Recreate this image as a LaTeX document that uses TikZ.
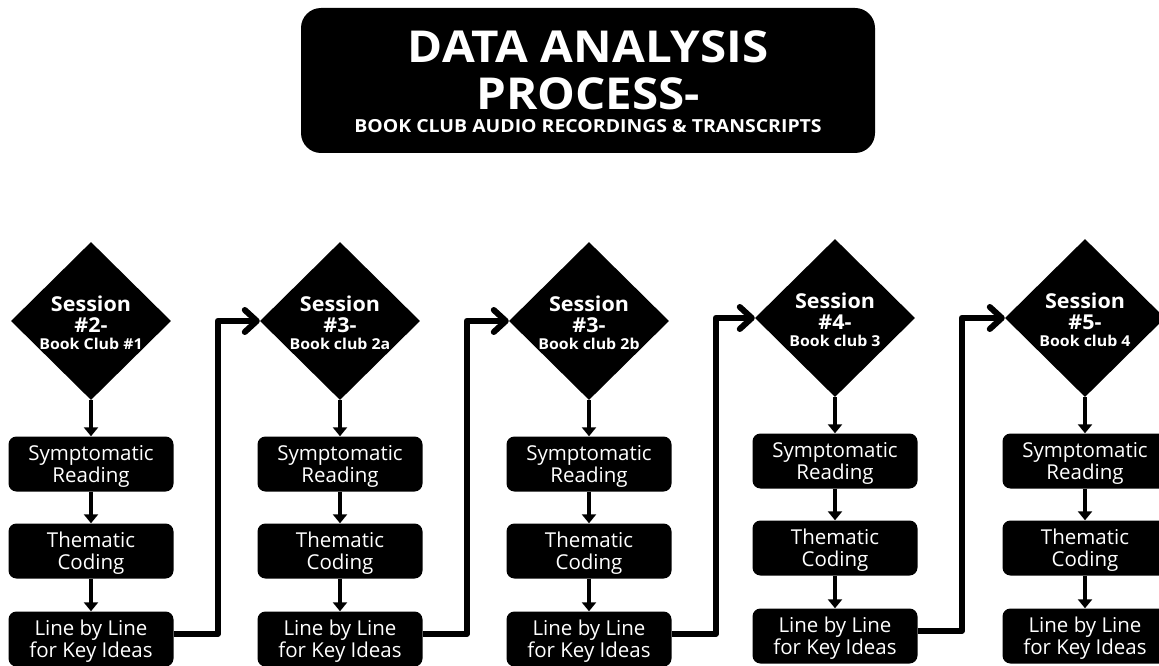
\documentclass[tikz,border=0pt]{standalone}
\usepackage{fontspec}
\setmainfont{Open Sans}
\usetikzlibrary{shapes.geometric,arrows.meta}
\tikzset{
  titlebox/.style={draw=none,fill=black,rounded corners=20pt,minimum width=574pt,minimum height=145pt,inner sep=0pt},
  diam/.style={diamond,fill=black,draw=none,minimum width=160pt,minimum height=158pt,inner sep=0pt,aspect=1},
  stepbox/.style={fill=black,draw=none,rounded corners=8pt,minimum width=165pt,minimum height=55pt,inner sep=0pt},
  steptext/.style={text=white,align=center,inner sep=0pt,font=\fontsize{20.5}{22}\selectfont},
  whitebold/.style={text=white,inner sep=0pt,anchor=base,font=\bfseries},
  down/.style={line width=4pt,-{Triangle[length=9pt,width=14pt]}},
  conn/.style={line width=6pt,line join=round,-{Straight Barb[length=12pt,width=22pt,round]}},
}
\begin{document}
\begin{tikzpicture}[x=1pt,y=-1pt]
\useasboundingbox (0,0) rectangle (1159,666);
\node[titlebox] (title) at (588,80.5) {};
\node[whitebold,font=\fontsize{44}{44}\bfseries\selectfont] (t1) at (588,63) {\scalebox{1.08}[1]{DATA ANALYSIS}};
\node[whitebold,font=\fontsize{44}{44}\bfseries\selectfont] (t2) at (588,110) {\scalebox{1.08}[1]{PROCESS-}};
\node[whitebold,font=\fontsize{18}{18}\bfseries\selectfont] (t3) at (588,132) {\scalebox{1.08}[1]{BOOK CLUB AUDIO RECORDINGS \& TRANSCRIPTS}};
\foreach \i/\x/\dy/\num/\sub in {1/91/0/\#2-/Book Club \#1, 2/340/0/\#3-/Book club 2a, 3/589/0/\#3-/Book club 2b, 4/835/-3/\#4-/Book club 3, 5/1085/-3/\#5-/Book club 4}{
  \node[diam] (d\i) at (\x,321+\dy) {};
  \node[whitebold,font=\fontsize{20.5}{20}\bfseries\selectfont] (sa\i) at (\x,311+\dy) {\scalebox{1.05}[1]{Session}};
  \node[whitebold,font=\fontsize{20.5}{20}\bfseries\selectfont] (sb\i) at (\x,332+\dy) {\scalebox{1.05}[1]{\num}};
  \node[whitebold,font=\fontsize{15}{15}\bfseries\selectfont] (sc\i) at (\x,349+\dy) {\scalebox{1.06}[1]{\sub}};
  \node[stepbox] (r\i) at (\x,464+\dy) {};
  \node[steptext] (rt\i) at (\x,466.5+\dy) {Symptomatic\\Reading};
  \node[stepbox] (c\i) at (\x,551+\dy) {};
  \node[steptext] (ct\i) at (\x,553.5+\dy) {Thematic\\Coding};
  \node[stepbox] (l\i) at (\x,639+\dy) {};
  \node[steptext] (lt\i) at (\x,641+\dy) {Line by Line\\for Key Ideas};
  \draw[down] (d\i.south) -- (r\i.north);
  \draw[down] (r\i.south) -- (c\i.north);
  \draw[down] (c\i.south) -- (l\i.north);
}
\foreach \i/\j in {1/2,2/3,3/4,4/5}{
  \draw[conn] ([yshift=5pt]l\i.east) -- ++(44,0) |- (d\j.west);
}
\end{tikzpicture}
\end{document}
